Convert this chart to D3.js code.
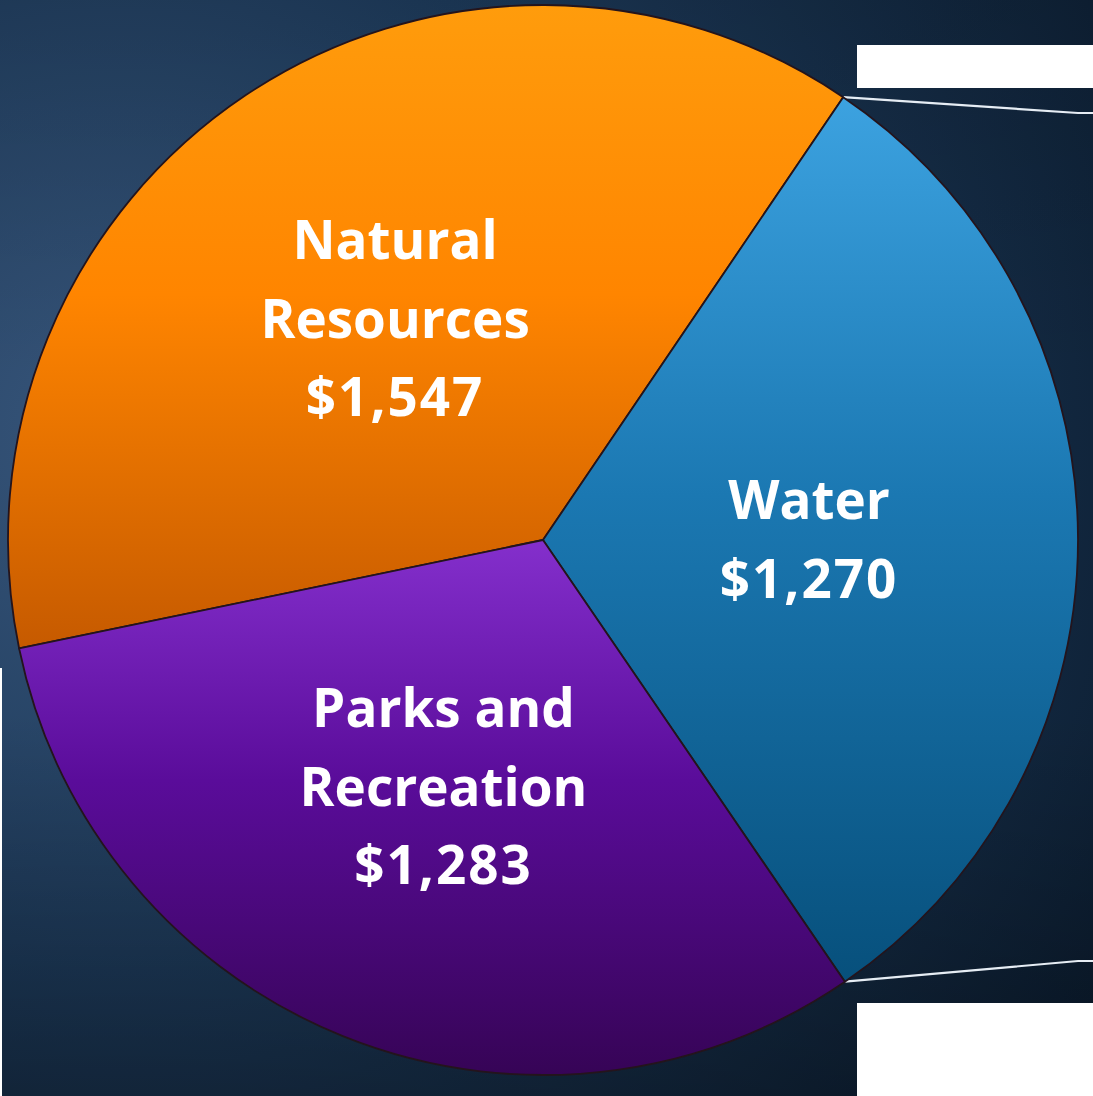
<!DOCTYPE html>
<html><head><meta charset="utf-8">
<script src="https://cdn.jsdelivr.net/npm/d3@7"></script>
<style>html,body{margin:0;padding:0;background:#fff;}svg{display:block;}</style>
</head><body>
<script>
const categories = ["Natural Resources", "Water", "Parks and Recreation"];
const values = [1547, 1270, 1283];
const labelLines = [["Natural", "Resources", "$1,547"], ["Water", "$1,270"], ["Parks and", "Recreation", "$1,283"]];

const W = 1093, H = 1096;
const cx = 543, cy = 540, R = 535;
const startDeg = -101.7;

const svg = d3.select("body").append("svg").attr("width", W).attr("height", H);
const defs = svg.append("defs");

// background gradient
const bg = defs.append("radialGradient").attr("id", "bg")
  .attr("gradientUnits", "userSpaceOnUse").attr("cx", 120).attr("cy", 430).attr("r", 1200);
bg.append("stop").attr("offset", 0).attr("stop-color", "#37557a");
bg.append("stop").attr("offset", 0.45).attr("stop-color", "#1d3a5a");
bg.append("stop").attr("offset", 1).attr("stop-color", "#0a1a2c");
svg.append("rect").attr("width", W).attr("height", H).attr("fill", "url(#bg)");
const bg2 = defs.append("linearGradient").attr("id", "bg2").attr("x1", 0).attr("y1", 0).attr("x2", 0).attr("y2", 1);
bg2.append("stop").attr("offset", 0).attr("stop-color", "#000").attr("stop-opacity", 0.1);
bg2.append("stop").attr("offset", 0.35).attr("stop-color", "#000").attr("stop-opacity", 0);
bg2.append("stop").attr("offset", 0.65).attr("stop-color", "#000").attr("stop-opacity", 0);
bg2.append("stop").attr("offset", 1).attr("stop-color", "#000").attr("stop-opacity", 0.3);
svg.append("rect").attr("width", W).attr("height", H).attr("fill", "url(#bg2)");

// white cut-out areas
svg.append("rect").attr("x", 857).attr("y", 45).attr("width", W - 857).attr("height", 43).attr("fill", "#fff");
svg.append("rect").attr("x", 857).attr("y", 1003).attr("width", W - 857).attr("height", H - 1003).attr("fill", "#fff");
svg.append("rect").attr("x", 0).attr("y", 668).attr("width", 2).attr("height", H - 668).attr("fill", "#fff");

const grads = [["#ff9c0c", "#ff8500", "#c65a00"], ["#3ca2e0", "#1b78b2", "#07507c"], ["#842fcc", "#5a0c9a", "#360456"]];
grads.forEach((g, i) => {
  const lg = defs.append("linearGradient").attr("id", "g" + i).attr("x1", 0).attr("y1", 0).attr("x2", 0).attr("y2", 1);
  lg.append("stop").attr("offset", 0).attr("stop-color", g[0]);
  lg.append("stop").attr("offset", 0.45).attr("stop-color", g[1]);
  lg.append("stop").attr("offset", 1).attr("stop-color", g[2]);
});

const pie = d3.pie().sort(null).value(d => d)
  .startAngle(startDeg * Math.PI / 180).endAngle((startDeg + 360) * Math.PI / 180);
const arcs = pie(values);
const arc = d3.arc().innerRadius(0).outerRadius(R);
const labelArc = d3.arc().innerRadius(266).outerRadius(266);

const g = svg.append("g").attr("transform", `translate(${cx},${cy})`);

// leader lines from Water slice edges to the right border
const water = arcs[1];
[water.startAngle, water.endAngle].forEach((a, k) => {
  const x0 = R * Math.sin(a), y0 = -R * Math.cos(a);
  const y1 = k === 0 ? -427 : 421;
  g.append("polyline")
    .attr("points", `${x0},${y0} ${1078 - cx},${y1} ${W - cx},${y1}`)
    .attr("fill", "none").attr("stroke", "#e6edf4").attr("stroke-width", 2.2);
});

g.selectAll("path.slice").data(arcs).join("path").attr("class", "slice")
  .attr("d", arc)
  .attr("fill", (d, i) => `url(#g${i})`)
  .attr("stroke", "#24141c").attr("stroke-width", 1.8).attr("stroke-linejoin", "round");

const lh = 78.5;
arcs.forEach((d, i) => {
  const [x, y] = labelArc.centroid(d);
  const lines = labelLines[i];
  const t = g.append("text")
    .attr("text-anchor", "middle")
    .attr("font-family", "'Open Sans', sans-serif")
    .attr("font-weight", 700).attr("font-size", 53)
    .attr("fill", "#fff");
  const y0 = y - (lines.length - 1) * lh / 2 + 19;
  lines.forEach((s, j) => {
    t.append("tspan").attr("x", x).attr("y", y0 + j * lh)
      .attr("letter-spacing", s.startsWith("$") ? 2 : 0).text(s);
  });
});
</script>
</body></html>
